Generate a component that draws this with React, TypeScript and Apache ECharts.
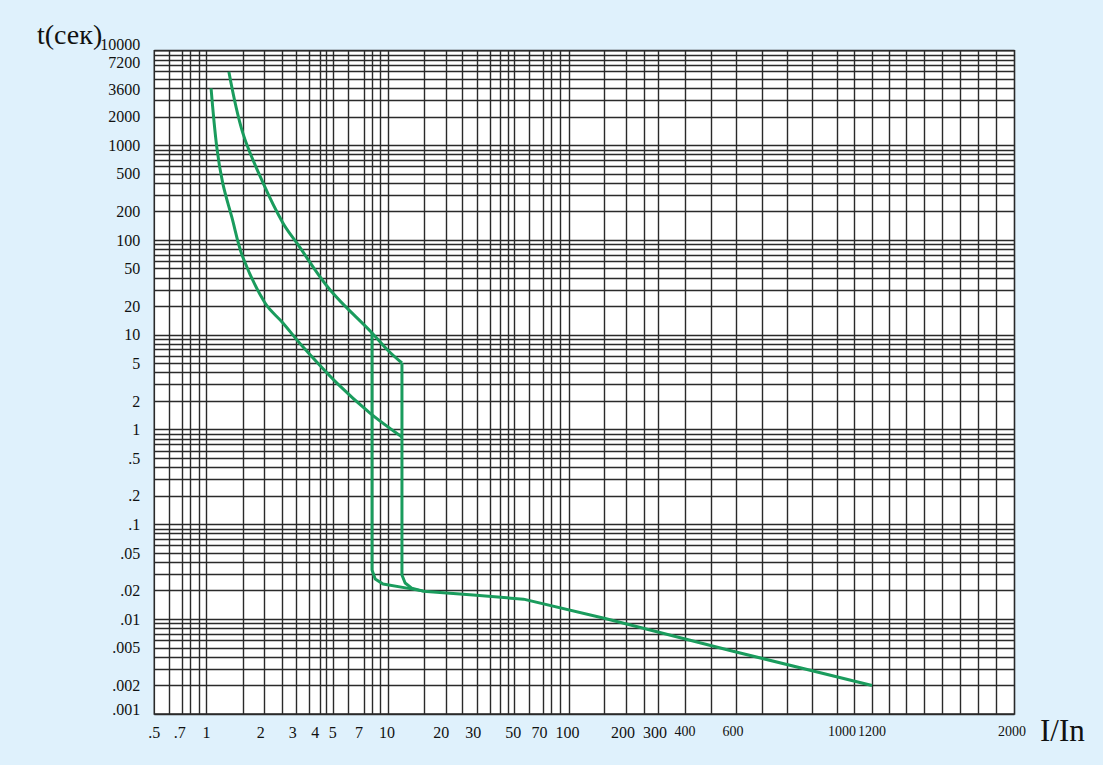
import React, { useEffect, useRef } from 'react';
import * as echarts from 'echarts';

// ---- Data (I/In multiples, t in seconds) ----
const CURVE_A_I = [1.06, 1.14, 1.23, 1.38, 1.59, 2.11, 2.65, 3.42, 5.28, 8.05, 12.1];
const CURVE_A_T = [4000, 960, 400, 176, 66, 21.7, 13.4, 7.5, 3.1, 1.5, 0.84];

const CURVE_B_I = [1.33, 1.59, 2.06, 2.65, 3.17, 4.83, 8.26, 10.1, 12.1];
const CURVE_B_T = [6000, 1350, 400, 152, 93, 30, 10.5, 6.9, 5.06];

const TAIL_I = [12.1, 12.1, 12.6, 13.7, 15.9, 30, 57, 160, 600, 1200];
const TAIL_T = [5.06, 0.0293, 0.0241, 0.0213, 0.0198, 0.018, 0.0163, 0.0102, 0.0046, 0.002];

const LEFT_V_I = [8.26, 8.26, 8.6, 9.5, 12.9, 15.9];
const LEFT_V_T = [10.5, 0.033, 0.0266, 0.0235, 0.0213, 0.0198];

// ---- Axis definition of the printed paper ----
// the printed I/In scale is logarithmic up to 100 and stretched above it
const X_SCALE_VALUES = [0.5, 1, 10, 100, 200, 300, 400, 600, 1000, 1200, 2000];
const X_SCALE_PAPER = [-0.2892, 0, 1, 2, 2.3075, 2.4848, 2.651, 2.917, 3.521, 3.687, 4.4626];
const X_AXIS_MIN_VALUE = 0.5;
const X_AXIS_MAX_VALUE = 2018;

const X_LABEL_VALUES = [0.5, 0.7, 1, 2, 3, 4, 5, 7, 10, 20, 30, 50, 70, 100, 200, 300, 400, 600, 1000, 1200, 2000];
const X_LABEL_TEXTS = ['.5', '.7', '1', '2', '3', '4', '5', '7', '10', '20', '30', '50', '70', '100', '200', '300', '400', '600', '1000', '1200', '2000'];

const X_GRID_VALUES = [
  0.61, 0.725, 0.81, 0.905, 1.0, 1.59, 2.09, 2.63, 3.16, 3.71, 4.25, 4.63, 5.04, 6.1, 7.45, 8.25, 9.12, 10.1,
  16.1, 21.2, 26.2, 31.6, 37.1, 42.4, 46.9, 50.9, 61.4, 73.2, 81.2, 90.7, 102,
  159, 208, 261, 310, 402, 500, 610, 688, 773, 869, 978, 1076, 1199, 1280, 1362, 1453, 1553, 1656, 1765, 1889,
];

const Y_MIN = 0.001;
const Y_MAX = 10000;
const Y_LABEL_VALUES = [10000, 7200, 3600, 2000, 1000, 500, 200, 100, 50, 20, 10, 5, 2, 1, 0.5, 0.2, 0.1, 0.05, 0.02, 0.01, 0.005, 0.002, 0.001];
const Y_LABEL_TEXTS = ['10000', '7200', '3600', '2000', '1000', '500', '200', '100', '50', '20', '10', '5', '2', '1', '.5', '.2', '.1', '.05', '.02', '.01', '.005', '.002', '.001'];
const Y_GRID_MANTISSAS = [1, 2, 3, 4, 5, 6, 7, 8, 9];
const Y_GRID_DECADES = [-3, -2, -1, 0, 1, 2, 3];

function toPaper(v: number): number {
  const lv = Math.log10(v);
  let i = 0;
  while (i < X_SCALE_VALUES.length - 2 && v > X_SCALE_VALUES[i + 1]) i++;
  const l0 = Math.log10(X_SCALE_VALUES[i]);
  const l1 = Math.log10(X_SCALE_VALUES[i + 1]);
  return X_SCALE_PAPER[i] + ((lv - l0) / (l1 - l0)) * (X_SCALE_PAPER[i + 1] - X_SCALE_PAPER[i]);
}

function pairs(xs: number[], ys: number[]) {
  return xs.map((x, i) => [toPaper(x), ys[i]]);
}

const FONT = 'Liberation Serif';
const GREEN = '#1a9c5d';
const INK = '#2a2a2a';
const TEXT = '#111111';
const BG = '#dff1fc';

export default function App() {
  const ref = useRef<HTMLDivElement>(null);

  useEffect(() => {
    if (!ref.current) return;
    const chart = echarts.init(ref.current, undefined, { renderer: 'svg' });

    const yGrid: number[] = [];
    Y_GRID_DECADES.forEach((k) => Y_GRID_MANTISSAS.forEach((m) => yGrid.push(Math.log10(m * Math.pow(10, k)))));
    yGrid.push(Math.log10(Y_MAX));

    const narrow = new Set(['400', '600', '1000', '1200', '2000']);
    const lift: Record<string, string> = { '10000': 'l12', '7200': 'l4', '3600': 'l7', '.001': 'l10' };
    const richBase = { fontFamily: FONT, fontSize: 16, color: TEXT };

    const lineSeries = (name: string, data: number[][], smooth: number | boolean) => ({
      name,
      type: 'line',
      xAxisIndex: 0,
      yAxisIndex: 0,
      data,
      smooth,
      symbol: 'none',
      lineStyle: { color: GREEN, width: 3 },
      z: 5,
    });

    chart.setOption({
      animation: false,
      backgroundColor: BG,
      grid: {
        left: 154.3,
        right: 88.5,
        top: 50.7,
        bottom: 51,
        show: true,
        backgroundColor: '#ffffff',
        borderColor: INK,
        borderWidth: 1.6,
      },
      xAxis: [
        {
          type: 'value',
          min: toPaper(X_AXIS_MIN_VALUE),
          max: toPaper(X_AXIS_MAX_VALUE),
          axisLine: { show: false },
          axisTick: { show: false, customValues: X_GRID_VALUES.map(toPaper) },
          splitLine: { show: true, lineStyle: { color: INK, width: 1.4 } },
          axisLabel: {
            customValues: X_LABEL_VALUES.map(toPaper),
            margin: 10,
            fontFamily: FONT,
            fontSize: 16,
            color: TEXT,
            formatter: (v: number) => {
              const i = X_LABEL_VALUES.findIndex((x) => Math.abs(toPaper(x) - v) < 1e-6);
              if (i < 0) return '';
              const t = X_LABEL_TEXTS[i];
              return narrow.has(t) ? `{n|${t}}` : t;
            },
            rich: { n: { fontFamily: FONT, fontSize: 14, color: TEXT } },
          },
        },
      ],
      yAxis: [
        {
          type: 'log',
          logBase: 10,
          min: Y_MIN,
          max: Y_MAX,
          show: false,
        },
        {
          type: 'value',
          position: 'left',
          min: Math.log10(Y_MIN),
          max: Math.log10(Y_MAX),
          axisLine: { show: false },
          axisTick: { show: false, customValues: yGrid },
          splitLine: { show: true, lineStyle: { color: INK, width: 1.4 } },
          axisLabel: {
            customValues: Y_LABEL_VALUES.map((t) => Math.log10(t)),
            margin: 14,
            fontFamily: FONT,
            fontSize: 16,
            color: TEXT,
            formatter: (v: number) => {
              const i = Y_LABEL_VALUES.findIndex((t) => Math.abs(Math.log10(t) - v) < 1e-6);
              if (i < 0) return '';
              const t = Y_LABEL_TEXTS[i];
              return lift[t] ? `{${lift[t]}|${t}}` : t;
            },
            rich: {
              l12: { ...richBase, padding: [0, 0, 12, 0] },
              l10: { ...richBase, padding: [0, 0, 10, 0] },
              l7: { ...richBase, padding: [0, 0, 7, 0] },
              l4: { ...richBase, padding: [0, 0, 4, 0] },
            },
          },
        },
      ],
      series: [
        lineSeries('curveA', pairs(CURVE_A_I, CURVE_A_T), 0.35),
        lineSeries('curveB', pairs(CURVE_B_I, CURVE_B_T), 0.35),
        lineSeries('tail', pairs(TAIL_I, TAIL_T), false),
        lineSeries('leftVertical', pairs(LEFT_V_I, LEFT_V_T), false),
      ],
      graphic: [
        {
          type: 'text',
          left: 37,
          top: 20,
          style: { text: 't(сек)', fontFamily: FONT, fontSize: 28, fill: TEXT },
        },
        {
          type: 'text',
          left: 1040,
          top: 715,
          style: { text: 'I/In', fontFamily: FONT, fontSize: 31, fill: TEXT },
        },
      ],
    });

    return () => chart.dispose();
  }, []);

  return (
    <div
      ref={ref}
      style={{ position: 'fixed', left: 0, top: 0, width: 1103, height: 765, background: BG }}
    />
  );
}
